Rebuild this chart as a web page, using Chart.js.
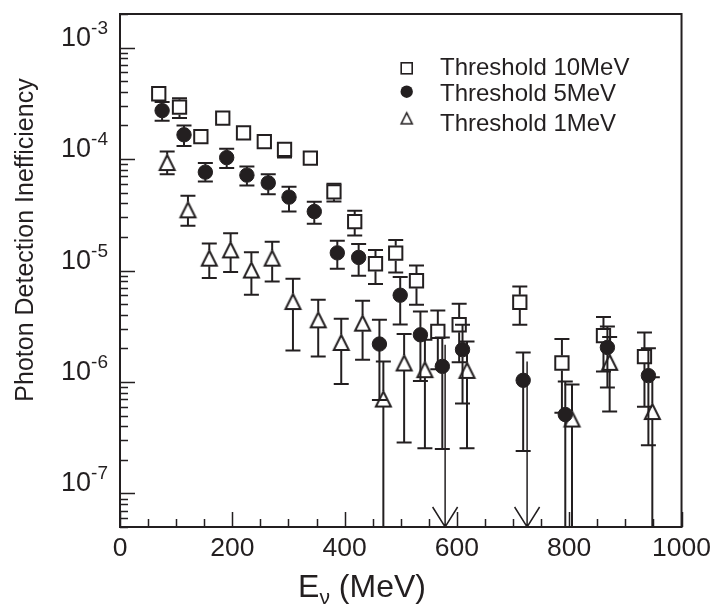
<!DOCTYPE html>
<html>
<head>
<meta charset="utf-8">
<title>Photon Detection Inefficiency</title>
<script src="https://cdn.jsdelivr.net/npm/chart.js@4.4.1/dist/chart.umd.min.js"></script>
<style>
  html, body { margin: 0; padding: 0; background: #ffffff; }
  #wrap { width: 717px; height: 612px; position: relative; }
</style>
</head>
<body>
<div id="wrap"><canvas id="chart" width="717" height="612"></canvas></div>
<script>
// Photon detection inefficiency versus neutrino energy for three veto thresholds.
// Each series: energy (MeV), value, lower and upper end of the error bar.
// A null value means nothing measured; its upper limit is drawn as a line with an arrow.

const energy10 = [69, 106, 144, 183, 220, 257, 293, 339, 381, 418, 455, 491, 528, 566, 604, 712, 787, 861, 934];
const value10  = [3.85e-4, 2.92e-4, 1.59e-4, 2.33e-4, 1.72e-4, 1.43e-4, 1.22e-4, 1.02e-4, 5.08e-5, 2.75e-5,
                  1.15e-5, 1.43e-5, 8.09e-6, 2.84e-6, 3.26e-6, 5.19e-6, 1.48e-6, 2.60e-6, 1.69e-6];
const low10    = [3.55e-4, 2.33e-4, 1.46e-4, 2.14e-4, 1.58e-4, 1.31e-4, 1.03e-4, 0.93e-4, 4.16e-5, 2.06e-5,
                  7.55e-6, 9.60e-6, 4.92e-6, 1.30e-6, 1.50e-6, 3.26e-6, 5.30e-7, 1.24e-6, 6.00e-7];
const high10   = [4.15e-4, 3.51e-4, 1.72e-4, 2.52e-4, 1.86e-4, 1.55e-4, 1.41e-4, 1.11e-4, 6.00e-5, 3.43e-5,
                  1.53e-5, 1.88e-5, 1.11e-5, 4.38e-6, 5.02e-6, 7.19e-6, 2.43e-6, 3.82e-6, 2.78e-6];

const energy5  = [75, 114, 152, 190, 226, 264, 301, 346, 387, 425, 462, 499, 535, 574, 610, 718, 793, 868, 941];
const value5   = [2.72e-4, 1.65e-4, 7.63e-5, 1.03e-4, 7.17e-5, 6.11e-5, 4.55e-5, 3.38e-5, 1.44e-5, 1.31e-5,
                  2.19e-6, 6.00e-6, 2.65e-6, 1.38e-6, 1.95e-6, 1.035e-6, 5.10e-7, 2.04e-6, 1.14e-6];
const low5     = [2.20e-4, 1.31e-4, 6.28e-5, 8.29e-5, 5.78e-5, 4.84e-5, 3.38e-5, 2.62e-5, 1.035e-5, 8.95e-6,
                  6.90e-7, 3.28e-6, 1.02e-6, 2.50e-7, 6.40e-7, 2.40e-7, 0, 8.93e-7, 2.70e-7];
const high5    = [3.24e-4, 2.00e-4, 9.19e-5, 1.235e-4, 8.57e-5, 7.32e-5, 5.63e-5, 4.13e-5, 1.85e-5, 1.73e-5,
                  3.61e-6, 8.73e-6, 4.28e-6, 2.51e-6, 3.26e-6, 1.84e-6, 1.01e-6, 3.15e-6, 2.01e-6];

const energy1  = [84, 121, 159, 197, 234, 271, 308, 353, 394, 432, 469, 506, 543, 579, 618, 725, 805, 872, 948];
const value1   = [9.30e-5, 3.50e-5, 1.29e-5, 1.53e-5, 1.01e-5, 1.29e-5, 5.27e-6, 3.61e-6, 2.26e-6, 3.37e-6,
                  7.03e-7, 1.48e-6, 1.29e-6, null, 1.27e-6, null, 4.65e-7, 1.50e-6, 5.43e-7];
const low1     = [7.32e-5, 2.52e-5, 8.55e-6, 9.67e-6, 6.05e-6, 7.96e-6, 1.92e-6, 1.69e-6, 9.60e-7, 1.58e-6,
                  0, 2.87e-7, 2.55e-7, 0, 2.55e-7, 0, 0, 5.43e-7, 0];
const high1    = [1.17e-4, 4.68e-5, 1.75e-5, 2.16e-5, 1.46e-5, 1.81e-5, 8.42e-6, 5.46e-6, 3.69e-6, 5.35e-6,
                  1.53e-6, 2.70e-6, 2.39e-6, 2.16e-6, 2.31e-6, 1.53e-6, 9.50e-7, 2.53e-6, 1.10e-6];

const seriesLabels = ['Threshold 10MeV', 'Threshold 5MeV', 'Threshold 1MeV'];
const xTickValues  = [0, 200, 400, 600, 800, 1000];
const xMinorStep   = 50;
const yDecades     = [-7, -6, -5, -4, -3];

const INK = '#231f20';
const FONT = "'Liberation Sans', Arial, Helvetica, sans-serif";

// open triangle sprite, centred on its bounding box
function triangleSprite(size, line) {
  const c = document.createElement('canvas');
  const pad = 3;
  c.width = c.height = size + 2 * pad;
  const g = c.getContext('2d');
  g.strokeStyle = INK;
  g.lineWidth = line;
  g.lineJoin = 'miter';
  g.beginPath();
  g.moveTo(pad + size / 2, pad);
  g.lineTo(pad + size, pad + size);
  g.lineTo(pad, pad + size);
  g.closePath();
  g.stroke();
  return c;
}
const triMarker = triangleSprite(15, 2);
const triLegend = triangleSprite(11, 1.6);

function toPoints(xs, vs, lo, hi) {
  return xs.map((x, i) => ({ x: x, y: vs[i], lo: lo[i], hi: hi[i] }));
}

// vertical error bars with end caps; they stop at the marker edge
const errorBars = {
  id: 'errorBars',
  beforeDatasetsDraw(chart) {
    const ctx = chart.ctx, area = chart.chartArea;
    const xs = chart.scales.x, ys = chart.scales.y;
    ctx.save();
    ctx.beginPath();
    ctx.rect(area.left, area.top, area.right - area.left, area.bottom - area.top);
    ctx.clip();
    ctx.strokeStyle = INK;
    ctx.lineWidth = 2;
    const cap = 7.5;
    chart.data.datasets.forEach(ds => {
      const gap = ds.barGap;
      ds.data.forEach(p => {
        const px = xs.getPixelForValue(p.x);
        const yHi = ys.getPixelForValue(p.hi);
        const hasLow = p.lo > 0;
        const yLo = hasLow ? ys.getPixelForValue(p.lo) : area.bottom + 5;
        ctx.beginPath();
        if (p.y === null) {
          ctx.lineWidth = 1.5;
          ctx.moveTo(px, yHi);
          ctx.lineTo(px, area.bottom);
          ctx.moveTo(px - 12.5, area.bottom - 20);
          ctx.lineTo(px, area.bottom);
          ctx.lineTo(px + 12.5, area.bottom - 20);
          ctx.stroke();
          ctx.lineWidth = 2;
          return;
        }
        const yc = ys.getPixelForValue(p.y);
        if (yc - yHi > gap) {
          ctx.moveTo(px, yHi); ctx.lineTo(px, yc - gap);
          ctx.moveTo(px - cap, yHi); ctx.lineTo(px + cap, yHi);
        }
        if (yLo - yc > gap) {
          ctx.moveTo(px, yc + gap); ctx.lineTo(px, Math.min(yLo, area.bottom));
          if (hasLow && yLo < area.bottom) {
            ctx.moveTo(px - cap, yLo); ctx.lineTo(px + cap, yLo);
          }
        }
        ctx.stroke();
      });
    });
    ctx.restore();
  }
};

// frame, inward tick marks, power-of-ten labels, axis titles and legend
const decorations = {
  id: 'decorations',
  afterDraw(chart) {
    const ctx = chart.ctx, a = chart.chartArea;
    const xs = chart.scales.x, ys = chart.scales.y;
    ctx.save();
    ctx.strokeStyle = INK;
    ctx.fillStyle = INK;

    // frame
    ctx.lineWidth = 2;
    ctx.strokeRect(a.left, a.top, a.right - a.left, a.bottom - a.top);

    // x ticks
    ctx.lineWidth = 1.5;
    ctx.beginPath();
    for (let v = xs.min; v <= xs.max; v += xMinorStep) {
      const px = Math.round(xs.getPixelForValue(v)) + 0.5;
      const len = xTickValues.includes(v) ? 15 : 8;
      ctx.moveTo(px, a.bottom);
      ctx.lineTo(px, a.bottom - len);
    }
    // y ticks
    for (let e = -8; e <= -3; e++) {
      for (let m = 1; m <= 9; m++) {
        const v = m * Math.pow(10, e);
        if (v < ys.min || v > ys.max) continue;
        const py = Math.round(ys.getPixelForValue(v)) + 0.5;
        const len = m === 1 ? 15 : 8;
        ctx.moveTo(a.left, py);
        ctx.lineTo(a.left + len, py);
      }
    }
    ctx.stroke();

    // y labels: 10 with a raised exponent
    const big = '27px ' + FONT, small = '19px ' + FONT;
    ctx.textBaseline = 'alphabetic';
    ctx.textAlign = 'left';
    yDecades.forEach(e => {
      const py = ys.getPixelForValue(Math.pow(10, e));
      const sup = String(e);
      ctx.font = small;
      const ws = ctx.measureText(sup).width;
      ctx.font = big;
      const wb = ctx.measureText('10').width;
      const right = a.left - 12;
      ctx.fillText('10', right - ws - wb, py - 2);
      ctx.font = small;
      ctx.fillText(sup, right - ws, py - 14);
    });

    // y title
    ctx.save();
    ctx.translate(33, 240);
    ctx.rotate(-Math.PI / 2);
    ctx.font = '25px ' + FONT;
    ctx.textAlign = 'center';
    ctx.fillText('Photon Detection Inefficiency', 0, 0);
    ctx.restore();

    // x title: E with subscript nu
    ctx.textAlign = 'left';
    const tFont = '32px ' + FONT, sFont = '21px ' + FONT;
    ctx.font = tFont;
    const wE = ctx.measureText('E').width;
    const wRest = ctx.measureText(' (MeV)').width;
    ctx.font = sFont;
    const wNu = ctx.measureText('\u03bd').width;
    const total = wE + wNu + wRest;
    let tx = 362 - total / 2;
    const base = 597;
    ctx.font = tFont;
    ctx.fillText('E', tx, base);
    tx += wE;
    ctx.font = sFont;
    ctx.fillText('\u03bd', tx, base + 7);
    tx += wNu;
    ctx.font = tFont;
    ctx.fillText(' (MeV)', tx, base);

    // legend
    const rows = [68.3, 91.7, 118.3];
    const textBase = [74.5, 101, 130.5];
    const mx = 406.7, tx0 = 440;
    chart.data.datasets.forEach((ds, i) => {
      const y = rows[i];
      ctx.lineWidth = 1.6;
      if (ds.pointStyle === 'rect') {
        ctx.strokeRect(mx - 5.5, y - 5.5, 11, 11);
      } else if (ds.pointStyle === 'circle') {
        ctx.beginPath();
        ctx.arc(mx, y, 6.2, 0, Math.PI * 2);
        ctx.fill();
      } else {
        ctx.drawImage(triLegend, mx - triLegend.width / 2, y - triLegend.height / 2);
      }
      ctx.font = '24px ' + FONT;
      ctx.fillText(ds.label, tx0, textBase[i]);
    });
    ctx.restore();
  }
};

new Chart(document.getElementById('chart'), {
  type: 'scatter',
  data: {
    datasets: [
      {
        label: seriesLabels[0],
        data: toPoints(energy10, value10, low10, high10),
        pointStyle: 'rect', pointRadius: 9.4, borderWidth: 2,
        borderColor: INK, backgroundColor: 'rgba(0,0,0,0)', barGap: 7.5
      },
      {
        label: seriesLabels[1],
        data: toPoints(energy5, value5, low5, high5),
        pointStyle: 'circle', pointRadius: 7.2, borderWidth: 1,
        borderColor: INK, backgroundColor: INK, barGap: 7
      },
      {
        label: seriesLabels[2],
        data: toPoints(energy1, value1, low1, high1),
        pointStyle: triMarker, pointRadius: 9,
        borderColor: INK, backgroundColor: INK, barGap: 8
      }
    ]
  },
  options: {
    responsive: false,
    animation: false,
    devicePixelRatio: 1,
    events: [],
    layout: { padding: { top: 14, right: 32, left: 0, bottom: 0 } },
    plugins: { legend: { display: false }, tooltip: { enabled: false } },
    scales: {
      x: {
        type: 'linear', min: 0, max: 1000,
        grid: { display: false, drawTicks: false },
        border: { display: false },
        ticks: {
          stepSize: 200, padding: 6, color: INK,
          font: { family: FONT, size: 26.5 },
          maxRotation: 0, autoSkip: false,
          callback: v => String(v)
        },
        afterFit(scale) { scale.height = 85; }
      },
      y: {
        type: 'logarithmic', min: 5e-8, max: 2e-3,
        grid: { display: false, drawTicks: false },
        border: { display: false },
        ticks: { display: false },
        afterFit(scale) { scale.width = 120; }
      }
    }
  },
  plugins: [errorBars, decorations]
});
</script>
</body>
</html>
